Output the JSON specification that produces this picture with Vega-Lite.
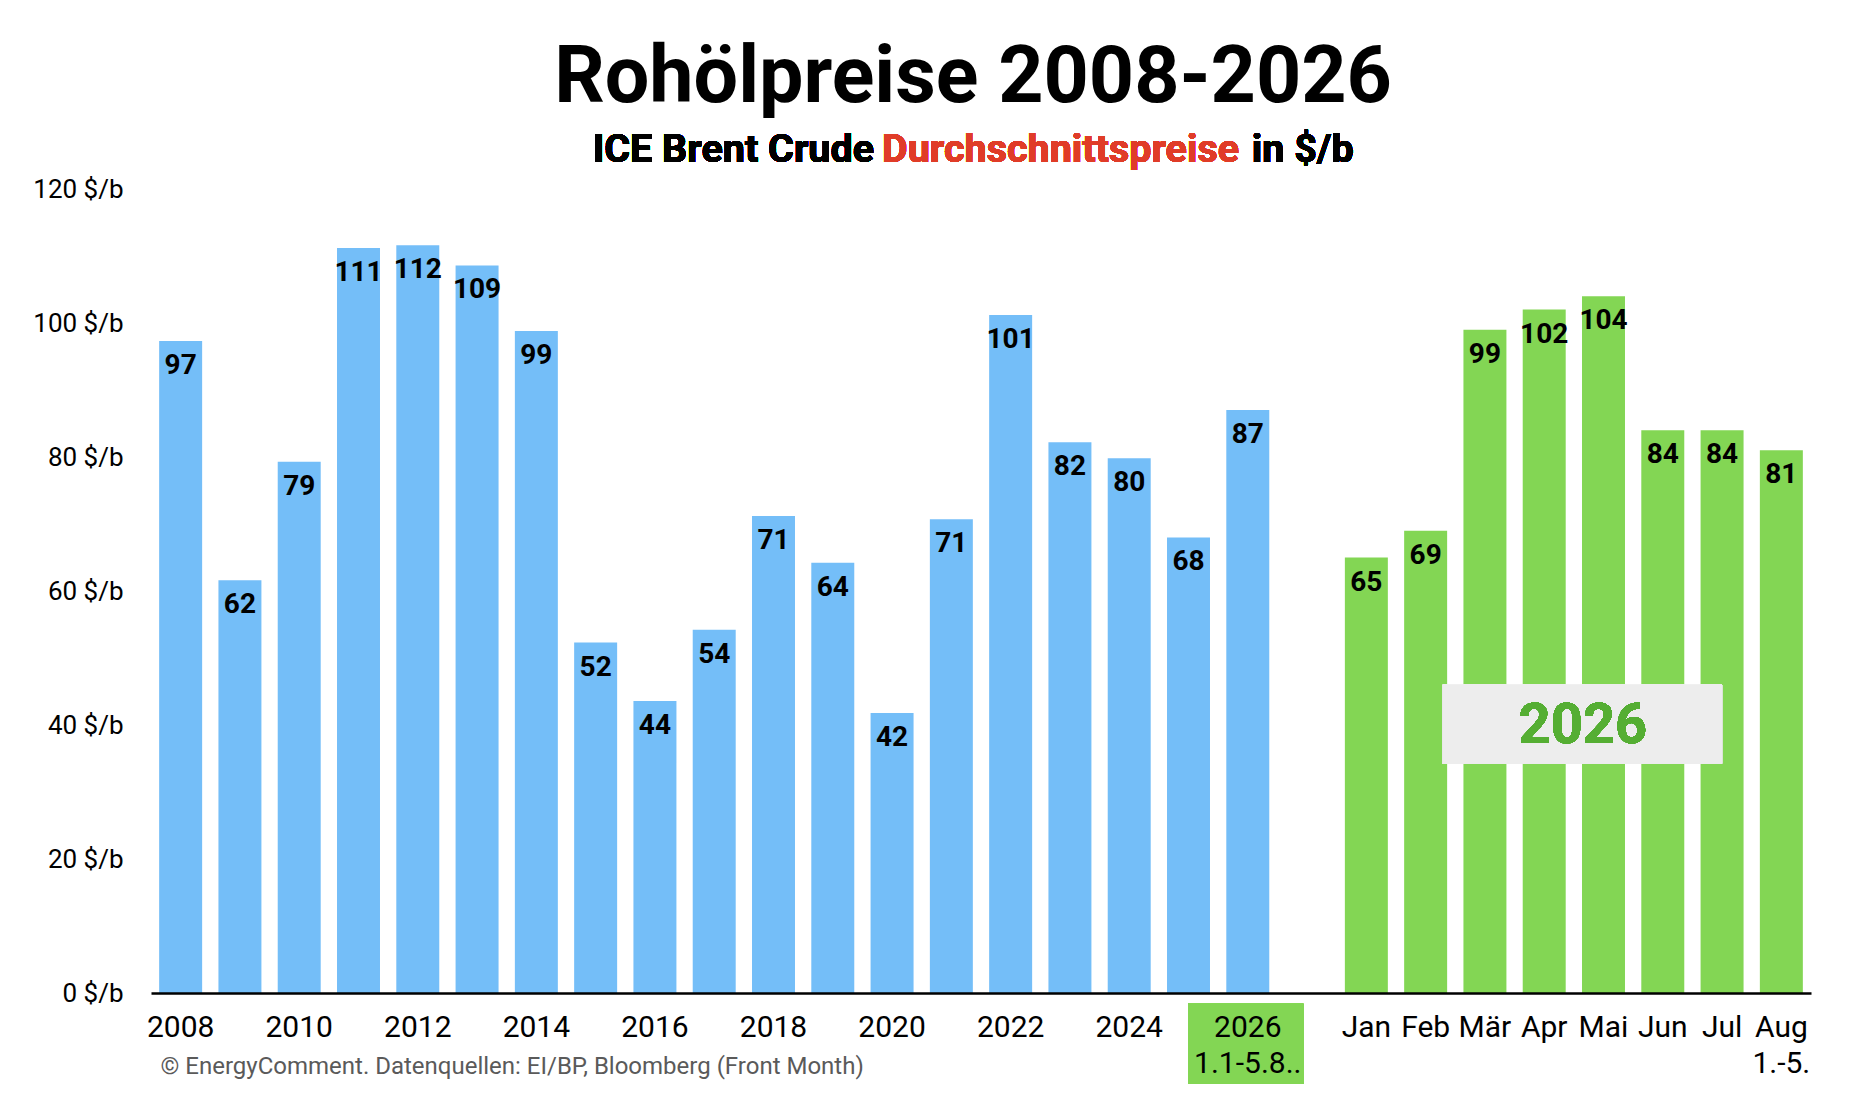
{
  "$schema": "https://vega.github.io/schema/vega-lite/v6.json",
  "description": "Rohölpreise 2008-2026, ICE Brent Crude Durchschnittspreise in $/b",
  "autosize": {"type": "none"},
  "padding": {"left": 151, "top": 189, "right": 39, "bottom": 115},
  "width": 1660,
  "height": 804,
  "background": "white",
  "title": {
    "text": "Rohölpreise 2008-2026",
    "font": "Roboto",
    "fontSize": 79,
    "fontWeight": "bold",
    "color": "#000000",
    "anchor": "middle",
    "baseline": "alphabetic",
    "offset": -51,
    "dx": -8
  },
  "data": {
    "values": [
      {"k": "2008", "price": 97.3, "group": "Jahr"},
      {"k": "2009", "price": 61.6, "group": "Jahr"},
      {"k": "2010", "price": 79.3, "group": "Jahr"},
      {"k": "2011", "price": 111.2, "group": "Jahr"},
      {"k": "2012", "price": 111.6, "group": "Jahr"},
      {"k": "2013", "price": 108.6, "group": "Jahr"},
      {"k": "2014", "price": 98.8, "group": "Jahr"},
      {"k": "2015", "price": 52.3, "group": "Jahr"},
      {"k": "2016", "price": 43.6, "group": "Jahr"},
      {"k": "2017", "price": 54.2, "group": "Jahr"},
      {"k": "2018", "price": 71.2, "group": "Jahr"},
      {"k": "2019", "price": 64.2, "group": "Jahr"},
      {"k": "2020", "price": 41.8, "group": "Jahr"},
      {"k": "2021", "price": 70.7, "group": "Jahr"},
      {"k": "2022", "price": 101.2, "group": "Jahr"},
      {"k": "2023", "price": 82.2, "group": "Jahr"},
      {"k": "2024", "price": 79.8, "group": "Jahr"},
      {"k": "2025", "price": 68.0, "group": "Jahr"},
      {"k": "2026", "price": 87.0, "group": "Jahr"},
      {"k": "Jan", "price": 65.0, "group": "Monat"},
      {"k": "Feb", "price": 69.0, "group": "Monat"},
      {"k": "Mär", "price": 99.0, "group": "Monat"},
      {"k": "Apr", "price": 102.0, "group": "Monat"},
      {"k": "Mai", "price": 104.0, "group": "Monat"},
      {"k": "Jun", "price": 84.0, "group": "Monat"},
      {"k": "Jul", "price": 84.0, "group": "Monat"},
      {"k": "Aug", "price": 81.0, "group": "Monat"}
    ]
  },
  "encoding": {
    "x": {
      "field": "k",
      "type": "nominal",
      "scale": {
        "domain": ["2008", "2009", "2010", "2011", "2012", "2013", "2014", "2015", "2016", "2017", "2018", "2019", "2020", "2021", "2022", "2023", "2024", "2025", "2026", "gap", "Jan", "Feb", "Mär", "Apr", "Mai", "Jun", "Jul", "Aug"],
        "paddingInner": 0.275,
        "paddingOuter": 0.1375
      },
      "axis": {
        "title": "© EnergyComment. Datenquellen: EI/BP, Bloomberg (Front Month)",
        "titleFont": "Roboto",
        "titleFontSize": 24,
        "titleFontWeight": "normal",
        "titleColor": "#5A5A5A",
        "titleAnchor": "start",
        "titleAlign": "left",
        "titleBaseline": "alphabetic",
        "titleX": 9,
        "titleY": 80,
        "labelFont": "Roboto",
        "labelFontSize": 30,
        "labelColor": "#000000",
        "labelAngle": 0,
        "labelPadding": 19,
        "labelLineHeight": 36,
        "labelOverlap": false,
        "labelExpr": "datum.value == '2026' ? ['2026', '1.1-5.8..'] : datum.value == 'Aug' ? ['Aug', '1.-5.'] : datum.value == 'gap' ? '' : (test(/^20[0-9][0-9]$/, datum.value) && toNumber(datum.value) % 2 == 1) ? '' : datum.value",
        "ticks": false,
        "domainColor": "#000000",
        "domainWidth": 2.5,
        "grid": false,
        "zindex": 1
      }
    }
  },
  "layer": [
    {
      "mark": {"type": "rect", "color": "#83D654"},
      "encoding": {
        "x": {"datum": "2025", "bandPosition": 0.5},
        "x2": {"datum": "gap", "bandPosition": 0.41},
        "y": {"datum": -1.6},
        "y2": {"datum": -13.6}
      }
    },
    {
      "mark": {"type": "bar"},
      "encoding": {
        "y": {
          "field": "price",
          "type": "quantitative",
          "scale": {"domain": [0, 120], "nice": false},
          "axis": {
            "title": null,
            "values": [0, 20, 40, 60, 80, 100, 120],
            "labelExpr": "datum.value + ' $/b'",
            "labelFont": "Roboto",
            "labelFontSize": 26,
            "labelColor": "#000000",
            "labelPadding": 28,
            "ticks": false,
            "domain": false,
            "gridColor": "#C4C4C4",
            "gridWidth": 1.5
          }
        },
        "color": {
          "field": "group",
          "type": "nominal",
          "scale": {"domain": ["Jahr", "Monat"], "range": ["#74BEF8", "#83D654"]},
          "legend": null
        }
      }
    },
    {
      "mark": {
        "type": "text",
        "font": "Roboto",
        "fontSize": 28,
        "fontWeight": "bold",
        "color": "#000000",
        "baseline": "alphabetic",
        "dy": 33
      },
      "encoding": {
        "y": {"field": "price", "type": "quantitative"},
        "text": {"field": "price", "type": "quantitative", "format": ".0f"}
      }
    },
    {
      "mark": {"type": "rect", "color": "#EDEDED"},
      "encoding": {
        "x": {"datum": "Feb", "bandPosition": 0.9},
        "x2": {"datum": "Jul", "bandPosition": 0.5},
        "y": {"datum": 46.0},
        "y2": {"datum": 34.2}
      }
    },
    {
      "mark": {
        "type": "text",
        "text": "2026",
        "font": "Roboto",
        "fontSize": 56,
        "fontWeight": "bold",
        "color": "#55AE33",
        "align": "center",
        "baseline": "middle"
      },
      "encoding": {
        "x": {"datum": "Mai", "bandPosition": 0.02},
        "y": {"datum": 39.8}
      }
    },
    {
      "mark": {
        "type": "text",
        "text": "ICE Brent Crude",
        "font": "Roboto",
        "fontSize": 39.5,
        "fontWeight": "bold",
        "color": "#000000",
        "align": "right",
        "baseline": "alphabetic",
        "dx": -18
      },
      "encoding": {
        "x": {"datum": "2020"},
        "y": {"datum": 124.1}
      }
    },
    {
      "mark": {
        "type": "text",
        "text": "Durchschnittspreise",
        "font": "Roboto",
        "fontSize": 39.5,
        "fontWeight": "bold",
        "color": "#E03C28",
        "align": "left",
        "baseline": "alphabetic",
        "dx": -10
      },
      "encoding": {
        "x": {"datum": "2020"},
        "y": {"datum": 124.1}
      }
    },
    {
      "mark": {
        "type": "text",
        "text": "in $/b",
        "font": "Roboto",
        "fontSize": 39.5,
        "fontWeight": "bold",
        "color": "#000000",
        "align": "left",
        "baseline": "alphabetic",
        "dx": 4
      },
      "encoding": {
        "x": {"datum": "2026"},
        "y": {"datum": 124.1}
      }
    }
  ],
  "config": {
    "view": {"stroke": null},
    "font": "Roboto"
  }
}
